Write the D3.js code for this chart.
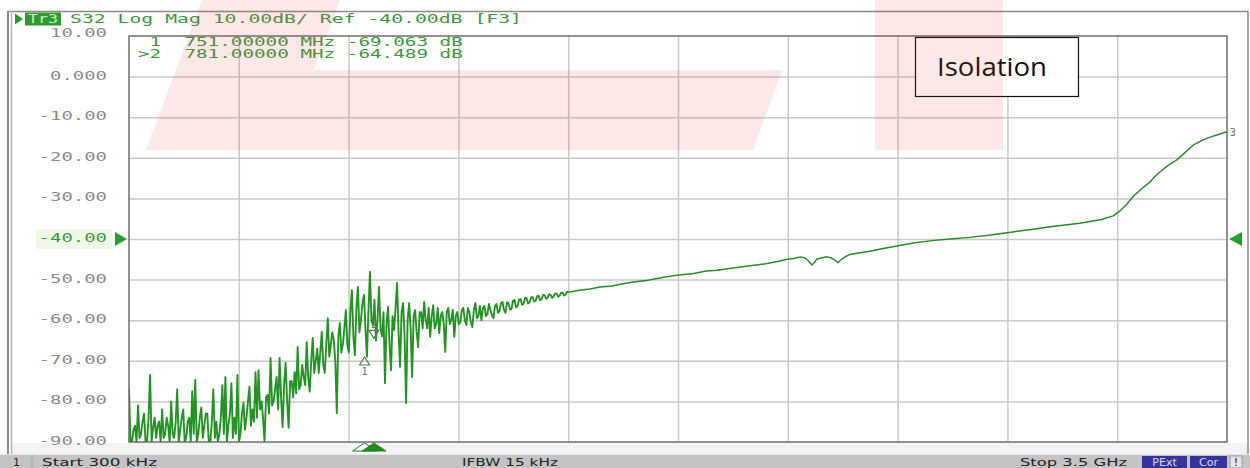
<!DOCTYPE html>
<html>
<head>
<meta charset="utf-8">
<script src="https://cdn.jsdelivr.net/npm/d3@7"></script>
<style>
  html, body { margin: 0; padding: 0; background: #fff; }
  svg { display: block; }
</style>
</head>
<body>
<div id="chart"></div>
<script>
const W = 1250, H = 468;
const plot = { left: 129, right: 1227, top: 36, bottom: 442 };

// y axis: 10 dB/div, ref -40 dB
const yTickValues = [10, 0, -10, -20, -30, -40, -50, -60, -70, -80, -90];
const yTickLabels = ["10.00", "0.000", "-10.00", "-20.00", "-30.00", "-40.00", "-50.00", "-60.00", "-70.00", "-80.00", "-90.00"];
const refLevel = -40;

// sweep 300 kHz .. 3.5 GHz (MHz)
const sweepStartMHz = 0.3;
const sweepStopMHz = 3500;

// noisy low-frequency part, one reading every 4.8 MHz from the start
const noisyStepMHz = 4.8;
const noisyDb = [
  -77, -90, -90, -87, -86, -90, -81, -89, -88, -85,
  -83, -90, -90, -84, -73.5, -90, -86.5, -84, -89, -86,
  -85, -90, -82, -89, -88, -84, -86, -90, -80, -88,
  -89, -85, -77, -90, -87, -84, -82, -90, -89, -85,
  -84, -90, -77.5, -88, -74.7, -90, -88, -84, -81.5, -89,
  -86, -83, -83, -90, -90, -85, -77, -89, -85, -90,
  -88, -84, -76, -88, -74, -90, -86, -83, -75.5, -89,
  -84, -88, -73.5, -90, -88, -83, -80.4, -87, -84, -80,
  -76.4, -86, -82, -85, -72.8, -84, -72.3, -82, -80, -84,
  -90, -79, -78.4, -83, -69.3, -81, -80, -77, -74, -82,
  -69.3, -79, -86.3, -76, -70.5, -80, -86.5, -75, -75, -79,
  -72.8, -78, -66.6, -77, -76, -71, -74, -76, -65.4, -74,
  -77.6, -70, -64.4, -73, -70, -67, -73, -68, -62.9, -71,
  -73, -66, -59.5, -69, -66, -63, -64.9, -70, -82.9, -64,
  -60.7, -68, -66, -62, -57.5, -66, -68, -58, -52.6, -64,
  -68.6, -57, -51.8, -63, -60, -56, -53.8, -62, -69, -58,
  -48.1, -60, -61.2, -55, -65, -60, -51.8, -62, -64, -58,
  -75.5, -61, -56.7, -66, -72.3, -59, -62.4, -57, -50.8, -63,
  -71.5, -58, -55.8, -64, -80.4, -60, -55.8, -62, -74, -59,
  -57.5, -63, -66.6, -58, -58, -62, -55.5, -60, -62, -57,
  -64.1, -59, -56.3, -62, -61, -57, -63.2, -59, -58, -61,
  -67.8, -58, -57, -61, -60, -57.5, -64.1, -59, -58, -61,
  -60.5, -57.5, -57, -60, -61.2, -57, -58, -60.5, -61.7, -57.5,
  -55.8, -59.5, -59, -56.5, -60, -57, -56.5, -59, -58.5, -56,
  -57.5, -58.8, -59.5, -56.5, -56, -58.2, -57.8, -55.8, -55.5, -57.5,
  -58.2, -55.6, -55.8, -57.4, -57.2, -55.2, -55, -56.8, -56.6, -54.9,
  -54.8, -56.2, -56, -54.5, -54.6, -55.9, -55.6, -54.4, -54.3, -55.4,
  -55.2, -54.1, -54, -55.1, -54.8, -53.8, -53.9, -54.7, -54.4, -53.6,
  -53.8, -54.5, -54.1, -53.4, -53.5, -54.2, -53.9, -53.2, -53.3, -53.9,
  -53.6, -53.0, -53.1
];

// smooth upper part
const smoothFreqMHz = [1430, 1470, 1501, 1540, 1570, 1607, 1650, 1700, 1747, 1800,
  1840, 1874, 1920, 1980, 2030, 2070, 2098, 2120, 2140, 2155,
  2165, 2177, 2185, 2193, 2210, 2225, 2240, 2250, 2260, 2270,
  2285, 2298, 2330, 2362, 2400, 2448, 2500, 2560, 2617, 2680,
  2740, 2793, 2850, 2900, 2936, 2990, 3030, 3063, 3100, 3137,
  3160, 3180, 3200, 3225, 3254, 3270, 3286, 3310, 3340, 3365,
  3392, 3420, 3446, 3475, 3500];
const smoothDb = [-52.7, -52.3, -51.8, -51.6, -51.1, -50.6, -50.2, -49.5, -48.9, -48.5,
  -47.9, -47.7, -47.2, -46.6, -46.1, -45.5, -45.0, -44.8, -44.4, -44.7,
  -45.3, -46.4, -45.8, -44.9, -44.6, -44.4, -44.7, -45.2, -45.8, -45.1,
  -44.3, -43.8, -43.4, -43.0, -42.4, -41.7, -41.0, -40.4, -40.0, -39.6,
  -39.1, -38.5, -37.9, -37.4, -37.0, -36.5, -36.1, -35.7, -35.2, -34.3,
  -33.0, -31.5, -29.6, -27.8, -26.0, -24.6, -23.5, -22.0, -20.5, -18.8,
  -16.9, -15.7, -14.9, -14.2, -13.6];

// markers
const markerFreqMHz = [751, 781];
const markerDb = [-69.063, -64.489];
const markerRows = [" 1  751.00000 MHz -69.063 dB", ">2  781.00000 MHz -64.489 dB"];

const headerText = "S32 Log Mag 10.00dB/ Ref -40.00dB [F3]";
const statusLeft = "Start 300 kHz";
const statusMid = "IFBW 15 kHz";
const statusRight = "Stop 3.5 GHz";

const monoFont = "'DejaVu Sans Mono', monospace";
const green = "#229422";

const svg = d3.select("#chart")
  .append("svg")
  .attr("width", W)
  .attr("height", H);

const x = d3.scaleLinear().domain([sweepStartMHz, sweepStopMHz]).range([plot.left, plot.right]);
const y = d3.scaleLinear().domain([10, -90]).range([plot.top, plot.bottom]);
const xDiv = d3.scaleLinear().domain([0, 10]).range([plot.left, plot.right]);

// window frame
svg.append("rect").attr("x", 0).attr("y", 454).attr("width", W).attr("height", 14).attr("fill", "#c4c4c4");
svg.append("rect").attr("x", 12).attr("y", 443).attr("width", 1236).attr("height", 11).attr("fill", "#f3f3f3");
svg.append("line").attr("x1", 7).attr("x2", 1248).attr("y1", 11.5).attr("y2", 11.5).attr("stroke", "#8a8a8a").attr("stroke-width", 1.5);
svg.append("line").attr("x1", 8).attr("x2", 8).attr("y1", 11).attr("y2", 454).attr("stroke", "#8a8a8a").attr("stroke-width", 2);
svg.append("line").attr("x1", 11.5).attr("x2", 11.5).attr("y1", 11).attr("y2", 454).attr("stroke", "#b5b5b5").attr("stroke-width", 1.5);
svg.append("line").attr("x1", 1248).attr("x2", 1248).attr("y1", 11).attr("y2", 454).attr("stroke", "#8a8a8a").attr("stroke-width", 1.5);

// -40 reference label background
svg.append("rect").attr("x", 36).attr("y", 229).attr("width", 76).attr("height", 20).attr("fill", "#eef7ea");

// grid
svg.append("g")
  .attr("transform", `translate(${plot.left},0)`)
  .call(d3.axisLeft(y).tickValues(yTickValues.slice(1, -1)).tickSize(-(plot.right - plot.left)).tickFormat(""))
  .call(g => g.select(".domain").remove())
  .selectAll("line").attr("stroke", "#c9c9c9").attr("stroke-width", 1.5);

svg.append("g")
  .attr("transform", `translate(0,${plot.bottom})`)
  .call(d3.axisBottom(xDiv).tickValues(d3.range(1, 10)).tickSize(-(plot.bottom - plot.top)).tickFormat(""))
  .call(g => g.select(".domain").remove())
  .selectAll("line").attr("stroke", "#c9c9c9").attr("stroke-width", 1.5);

svg.append("rect")
  .attr("x", plot.left).attr("y", plot.top)
  .attr("width", plot.right - plot.left).attr("height", plot.bottom - plot.top)
  .attr("fill", "none").attr("stroke", "#6e6e6e").attr("stroke-width", 1.5);

// y labels
const yAxis = svg.append("g")
  .attr("transform", `translate(${plot.left},0)`)
  .call(d3.axisLeft(y).tickValues(yTickValues).tickFormat((d, i) => yTickLabels[i]).tickSize(0).tickPadding(22));
yAxis.select(".domain").remove();
yAxis.selectAll("text")
  .attr("font-family", monoFont)
  .attr("font-size", 12)
  .attr("fill", d => d === refLevel ? "#3a9a3a" : "#8a8a8a")
  .attr("dy", d => d === 10 ? "0em" : "0.2em")
  .attr("textLength", (d, i) => yTickLabels[i].length * 11.4)
  .attr("lengthAdjust", "spacingAndGlyphs");

// trace: noisy part drawn a little heavier, smooth part continues from its last point
const noisyPts = noisyDb.map((db, i) => ({ f: sweepStartMHz + i * noisyStepMHz, db: db }));
const smoothPts = [noisyPts[noisyPts.length - 1]]
  .concat(smoothFreqMHz.map((f, i) => ({ f: f, db: smoothDb[i] })));

svg.append("clipPath").attr("id", "plotclip")
  .append("rect").attr("x", plot.left).attr("y", plot.top - 1)
  .attr("width", plot.right - plot.left).attr("height", plot.bottom - plot.top + 1);

const traceLine = d3.line().x(d => x(d.f)).y(d => y(Math.max(d.db, -90)));

svg.append("path")
  .datum(noisyPts)
  .attr("clip-path", "url(#plotclip)")
  .attr("fill", "none")
  .attr("stroke", green)
  .attr("stroke-width", 1.9)
  .attr("stroke-linejoin", "round")
  .attr("d", traceLine);

svg.append("path")
  .datum(smoothPts)
  .attr("clip-path", "url(#plotclip)")
  .attr("fill", "none")
  .attr("stroke", "#2a8a2a")
  .attr("stroke-width", 1.5)
  .attr("stroke-linejoin", "round")
  .attr("d", traceLine);

// marker readout
svg.append("g").selectAll("text")
  .data(markerRows)
  .enter().append("text")
  .attr("x", 138)
  .attr("y", (d, i) => 46 + i * 11.5)
  .attr("font-family", monoFont)
  .attr("font-size", 12)
  .attr("fill", "#3a9a3a")
  .attr("xml:space", "preserve")
  .style("white-space", "pre")
  .attr("textLength", d => d.length * 11.6)
  .attr("lengthAdjust", "spacingAndGlyphs")
  .text(d => d);

// marker glyphs on the trace
const mk = svg.append("g").attr("fill", "none").attr("stroke", "#5d7a5d").attr("stroke-width", 1.2);
markerFreqMHz.forEach((f, i) => {
  const mx = x(f), my = y(markerDb[i]);
  if (i === 0) {
    mk.append("path").attr("d", `M${mx},${my} L${mx - 5},${my + 8} L${mx + 5},${my + 8} Z`);
    mk.append("text").attr("x", mx).attr("y", my + 18).attr("text-anchor", "middle")
      .attr("stroke", "none").attr("fill", "#5d7a5d").attr("font-family", monoFont).attr("font-size", 10).text("1");
  } else {
    mk.append("path").attr("d", `M${mx},${my} L${mx - 5},${my - 8} L${mx + 5},${my - 8} Z`);
    mk.append("text").attr("x", mx).attr("y", my - 10).attr("text-anchor", "middle")
      .attr("stroke", "none").attr("fill", "#5d7a5d").attr("font-family", monoFont).attr("font-size", 10).text("2");
  }
});

// stimulus markers under the grid
markerFreqMHz.forEach((f, i) => {
  const mx = x(f);
  svg.append("path")
    .attr("d", `M${mx},${plot.bottom + 1} L${mx - 12},${plot.bottom + 9} L${mx + 12},${plot.bottom + 9} Z`)
    .attr("fill", i === 1 ? "#1f8a1f" : "#ffffff")
    .attr("stroke", "#1f8a1f")
    .attr("stroke-width", 1);
});

// reference level arrows
const yr = y(refLevel);
svg.append("path").attr("d", `M115,${yr - 7} L127,${yr} L115,${yr + 7} Z`).attr("fill", "#24a024");
svg.append("path").attr("d", `M1242,${yr - 7} L1229,${yr} L1242,${yr + 7} Z`).attr("fill", "#24a024");

// trace end label
svg.append("text")
  .attr("x", 1230).attr("y", y(smoothDb[smoothDb.length - 1]) + 4)
  .attr("font-family", monoFont).attr("font-size", 10).attr("fill", "#6a6a6a")
  .text("3");

// header
svg.append("path").attr("d", "M15,13.5 L23,19 L15,24.5 Z").attr("fill", "#24a024");
svg.append("rect").attr("x", 25).attr("y", 12.5).attr("width", 36).attr("height", 13).attr("fill", "#2f9a2f");
svg.append("text").attr("x", 28).attr("y", 23)
  .attr("font-family", monoFont).attr("font-size", 12).attr("fill", "#c9f0c9")
  .attr("textLength", 30).attr("lengthAdjust", "spacingAndGlyphs").text("Tr3");
svg.append("text").attr("x", 70).attr("y", 23)
  .attr("font-family", monoFont).attr("font-size", 12).attr("fill", "#3a9a3a")
  .attr("textLength", 452).attr("lengthAdjust", "spacingAndGlyphs").text(headerText);

// status bar
const statusFont = "'DejaVu Sans', sans-serif";
svg.append("line").attr("x1", 0).attr("x2", W).attr("y1", 454.5).attr("y2", 454.5).attr("stroke", "#e6e6e6");
svg.append("line").attr("x1", 32).attr("x2", 32).attr("y1", 455).attr("y2", 468).attr("stroke", "#a8a8a8");
svg.append("text").attr("x", 13).attr("y", 466).attr("font-family", statusFont).attr("font-size", 11).attr("fill", "#222").text("1");
svg.append("text").attr("x", 42).attr("y", 466).attr("font-family", statusFont).attr("font-size", 11).attr("fill", "#222")
  .attr("textLength", 115).attr("lengthAdjust", "spacingAndGlyphs").text(statusLeft);
svg.append("text").attr("x", 462).attr("y", 466).attr("font-family", statusFont).attr("font-size", 11).attr("fill", "#222")
  .attr("textLength", 96).attr("lengthAdjust", "spacingAndGlyphs").text(statusMid);
svg.append("text").attr("x", 1020).attr("y", 466).attr("font-family", statusFont).attr("font-size", 11).attr("fill", "#222")
  .attr("textLength", 107).attr("lengthAdjust", "spacingAndGlyphs").text(statusRight);

const badges = [{ t: "PExt", x: 1142, w: 45 }, { t: "Cor", x: 1190, w: 37 }];
badges.forEach(b => {
  svg.append("rect").attr("x", b.x).attr("y", 456).attr("width", b.w).attr("height", 12).attr("fill", "#34349c");
  svg.append("text").attr("x", b.x + b.w / 2).attr("y", 466).attr("text-anchor", "middle")
    .attr("font-family", statusFont).attr("font-size", 11).attr("fill", "#d8d8ff").text(b.t);
});
svg.append("rect").attr("x", 1230).attr("y", 456).attr("width", 12).attr("height", 12).attr("fill", "#e4e4e4").attr("stroke", "#9a9a9a");
svg.append("text").attr("x", 1236).attr("y", 466).attr("text-anchor", "middle")
  .attr("font-family", statusFont).attr("font-size", 11).attr("fill", "#222").text("!");

// "Isolation" caption box
svg.append("rect").attr("x", 915.5).attr("y", 37.5).attr("width", 163).attr("height", 59)
  .attr("fill", "#fff").attr("stroke", "#111").attr("stroke-width", 1.2);
svg.append("text").attr("x", 937).attr("y", 76)
  .attr("font-family", "'Open Sans', sans-serif").attr("font-size", 25).attr("fill", "#111")
  .attr("textLength", 110).attr("lengthAdjust", "spacingAndGlyphs").text("Isolation");

// watermark logo
const wm = svg.append("g").attr("fill", "rgba(235,45,45,0.11)");
wm.append("path").attr("d", "M202,0 L340,0 L314,70 L782,70 L753,150 L146,150 Z");
wm.append("rect").attr("x", 875).attr("y", 0).attr("width", 128).attr("height", 150);
</script>
</body>
</html>
